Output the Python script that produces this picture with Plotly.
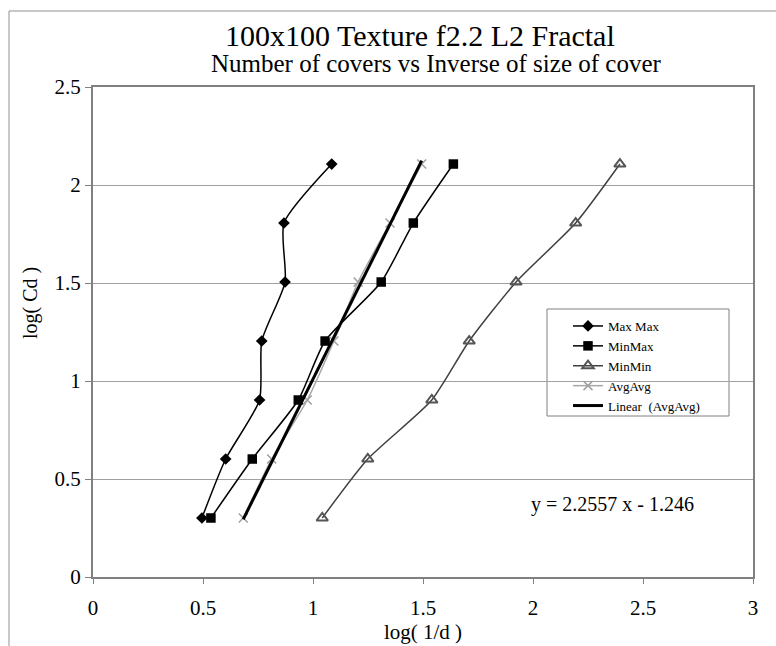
import plotly.graph_objects as go

# ---- data ----
log_cd = [0.301, 0.602, 0.903, 1.204, 1.505, 1.806, 2.107]
maxmax_x = [0.495, 0.603, 0.757, 0.767, 0.873, 0.868, 1.085]
minmax_x = [0.536, 0.724, 0.933, 1.055, 1.31, 1.456, 1.638]
minmin_x = [1.042, 1.249, 1.54, 1.71, 1.923, 2.194, 2.395]
avgavg_x = [0.683, 0.812, 0.974, 1.095, 1.205, 1.35, 1.494]
trend_slope = 2.2557
trend_intercept = -1.246

title_text = "100x100 Texture f2.2 L2 Fractal"
subtitle_text = "Number of covers vs Inverse of size of cover"
x_title = "log( 1/d )"
y_title = "log( Cd )"
equation_text = "y = 2.2557 x - 1.246"
x_ticks = [0, 0.5, 1, 1.5, 2, 2.5, 3]
y_ticks = [0, 0.5, 1, 1.5, 2, 2.5]

FONT = "Liberation Serif"

# plot area in pixels: x 93..753, y 87..577
def px(x):
    return (x - 93) / 660

def py(y):
    return (577 - y) / 490

fig = go.Figure()

fig.add_trace(go.Scatter(
    x=maxmax_x, y=log_cd, name="Max Max", mode="lines+markers",
    line=dict(color="black", width=1.5, shape="spline", smoothing=0.6),
    marker=dict(symbol="diamond", size=9, color="black")))
fig.add_trace(go.Scatter(
    x=minmax_x, y=log_cd, name="MinMax", mode="lines+markers",
    line=dict(color="black", width=1.5, shape="spline", smoothing=0.6),
    marker=dict(symbol="square", size=9.5, color="black")))
fig.add_trace(go.Scatter(
    x=minmin_x, y=log_cd, name="MinMin", mode="lines+markers",
    line=dict(color="#404040", width=1.5, shape="spline", smoothing=0.6),
    marker=dict(symbol="triangle-up-open", size=10, color="#555555",
                line=dict(width=2, color="#555555"))))
fig.add_trace(go.Scatter(
    x=avgavg_x, y=log_cd, name="AvgAvg", mode="lines+markers",
    line=dict(color="#a8a8a8", width=1.5, shape="spline", smoothing=0.6),
    marker=dict(symbol="x-thin", size=9, color="#a0a0a0",
                line=dict(width=1.5, color="#a0a0a0"))))

tx = [min(avgavg_x), max(avgavg_x)]
ty = [trend_slope * v + trend_intercept for v in tx]
fig.add_trace(go.Scatter(
    x=tx, y=ty, name="Linear  (AvgAvg)", mode="lines",
    line=dict(color="black", width=3)))

fig.update_layout(
    width=776, height=646,
    margin=dict(l=93, r=23, t=87, b=69),
    paper_bgcolor="white", plot_bgcolor="white",
    font=dict(family=FONT, color="black"),
    showlegend=True,
    legend=dict(x=px(568), y=py(311), xanchor="left", yanchor="top",
                bgcolor="rgba(0,0,0,0)", borderwidth=0,
                font=dict(family=FONT, size=13, color="black"),
                itemwidth=30, tracegroupgap=0),
    xaxis=dict(range=[0, 3], tickvals=x_ticks, ticktext=[str(v) for v in x_ticks],
               showgrid=False, zeroline=False,
               showline=True, linecolor="#808080", linewidth=2, mirror=True,
               ticks="outside", ticklen=5, tickcolor="#808080",
               ticklabelstandoff=6,
               tickfont=dict(family=FONT, size=21, color="black"),
               title=dict(text=x_title, font=dict(family=FONT, size=21, color="black"),
                          standoff=0)),
    yaxis=dict(range=[0, 2.5], tickvals=y_ticks, ticktext=[str(v) for v in y_ticks],
               showgrid=True, gridcolor="#a0a0a0", gridwidth=1, zeroline=False,
               showline=True, linecolor="#808080", linewidth=2, mirror=True,
               ticks="outside", ticklen=6, tickcolor="#808080",
               tickfont=dict(family=FONT, size=21, color="black")),
    annotations=[
        dict(text=title_text, xref="paper", yref="paper",
             x=px(420), y=py(35), xanchor="center", yanchor="middle",
             showarrow=False, font=dict(family=FONT, size=30, color="black")),
        dict(text=subtitle_text, xref="paper", yref="paper",
             x=px(436), y=py(63), xanchor="center", yanchor="middle",
             showarrow=False, font=dict(family=FONT, size=25, color="black")),
        dict(text=y_title, xref="paper", yref="paper", textangle=-90,
             x=px(30), y=py(303), xanchor="center", yanchor="middle",
             showarrow=False, font=dict(family=FONT, size=20, color="black")),
        dict(text=equation_text, xref="paper", yref="paper",
             x=px(612), y=py(504), xanchor="center", yanchor="middle",
             showarrow=False, font=dict(family=FONT, size=20, color="black")),
    ],
    shapes=[
        dict(type="rect", xref="paper", yref="paper",
             x0=px(9), x1=1.2, y0=-0.3, y1=py(11),
             line=dict(color="#909090", width=1), layer="below"),
        dict(type="rect", xref="paper", yref="paper",
             x0=px(547), x1=px(729), y0=py(416), y1=py(309),
             fillcolor="white", line=dict(color="#808080", width=1), layer="below"),
    ],
)

fig.write_html("out.html")
